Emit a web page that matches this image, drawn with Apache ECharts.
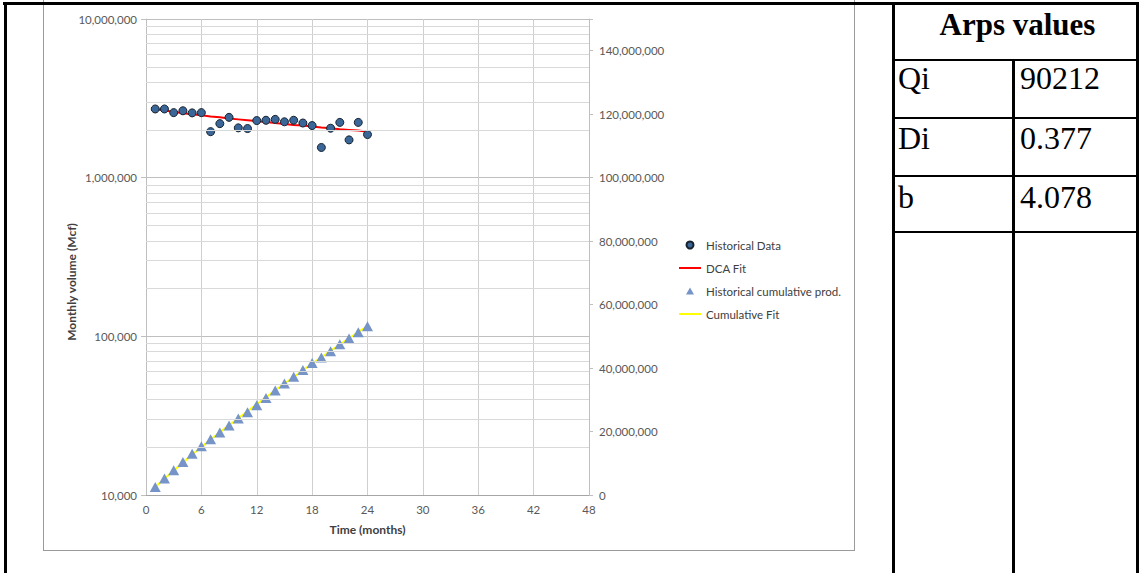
<!DOCTYPE html>
<html>
<head>
<meta charset="utf-8">
<title>Decline curve analysis</title>
<script src="https://cdn.jsdelivr.net/npm/echarts@6/dist/echarts.min.js"></script>
<style>
  html, body { margin: 0; padding: 0; background: #fff; }
  #page { position: relative; width: 1139px; height: 573px; overflow: hidden; background: #fff; }
  #chart { position: absolute; left: 0; top: 0; width: 1139px; height: 573px; }
  .frame { position: absolute; left: 43px; top: -20px; width: 812px; height: 571px;
           border: 1px solid #9a9a9a; box-sizing: border-box; }
  .rule { position: absolute; background: #000; }
  .cell { position: absolute; font-family: "Liberation Serif", "Times New Roman", serif;
          color: #000; font-size: 32px; line-height: 36px; height: 36px; white-space: nowrap; }
  .head { font-weight: bold; font-size: 31px; text-align: center; }
</style>
</head>
<body>
<div id="page">
  <div class="frame"></div>
  <div id="chart"></div>

  <!-- page table rules -->
  <div class="rule" style="left:3px;top:2px;width:1136px;height:3px"></div>
  <div class="rule" style="left:4px;top:2px;width:3px;height:571px"></div>
  <div class="rule" style="left:892px;top:2px;width:3px;height:571px"></div>
  <div class="rule" style="left:1012px;top:59px;width:3px;height:514px"></div>
  <div class="rule" style="left:1136px;top:2px;width:3px;height:571px"></div>
  <div class="rule" style="left:892px;top:59px;width:247px;height:2px"></div>
  <div class="rule" style="left:892px;top:117px;width:247px;height:2px"></div>
  <div class="rule" style="left:892px;top:175px;width:247px;height:2px"></div>
  <div class="rule" style="left:892px;top:231px;width:247px;height:2px"></div>

  <!-- Arps parameters -->
  <div class="cell head" style="left:897px;top:7px;width:241px">Arps values</div>
  <div class="cell" style="left:898px;top:60px">Qi</div>
  <div class="cell" style="left:1020px;top:60px">90212</div>
  <div class="cell" style="left:898px;top:120px">Di</div>
  <div class="cell" style="left:1020px;top:120px">0.377</div>
  <div class="cell" style="left:898px;top:179px">b</div>
  <div class="cell" style="left:1020px;top:179px">4.078</div>
</div>

<script>
// Production months
const months = [1, 2, 3, 4, 5, 6, 7, 8, 9, 10, 11, 12,
                13, 14, 15, 16, 17, 18, 19, 20, 21, 22, 23, 24];

// Historical monthly volume (Mcf)
const historicalMonthly = [
  2710000, 2710000, 2570000, 2640000, 2560000, 2570000,
  1950000, 2190000, 2400000, 2060000, 2040000, 2290000,
  2300000, 2330000, 2250000, 2300000, 2210000, 2130000,
  1550000, 2050000, 2230000, 1730000, 2230000, 1870000
];

// Arps decline fit of the monthly volume (Mcf)
const dcaFit = [
  2710000, 2650000, 2600000, 2550000, 2510000, 2470000,
  2430000, 2400000, 2360000, 2330000, 2300000, 2270000,
  2240000, 2210000, 2180000, 2150000, 2130000, 2100000,
  2070000, 2050000, 2020000, 2000000, 1980000, 1950000
];

// Historical cumulative production (Mcf)
const historicalCumulative = [
  2500000, 5200000, 7800000, 10400000, 13000000, 15400000,
  17600000, 19700000, 21900000, 24100000, 26100000, 28300000,
  30600000, 32900000, 35100000, 37300000, 39400000, 41600000,
  43300000, 45300000, 47500000, 49300000, 51300000, 53200000
];

// Cumulative production from the fit (Mcf)
const cumulativeFit = [
  2500000, 5100000, 7700000, 10200000, 12700000, 15100000,
  17500000, 19800000, 22000000, 24200000, 26400000, 28600000,
  30800000, 33000000, 35100000, 37200000, 39300000, 41400000,
  43400000, 45400000, 47400000, 49400000, 51300000, 53200000
];

// Minor gridlines of the logarithmic volume axis
const minorLogLines = [
  20000, 30000, 40000, 50000, 60000, 70000, 80000, 90000,
  200000, 300000, 400000, 500000, 600000, 700000, 800000, 900000,
  2000000, 3000000, 4000000, 5000000, 6000000, 7000000, 8000000, 9000000
];

function withCommas(v) {
  return String(Math.round(v)).replace(/\B(?=(\d{3})+(?!\d))/g, ',');
}
function pairs(values) {
  return months.map((m, i) => [m, values[i]]);
}

const FONT = 'Lato, "Open Sans", sans-serif';
const labelStyle = { fontFamily: FONT, fontSize: 11.5, color: '#595959' };
const hiddenMarker = { color: 'rgba(0,0,0,0)', borderColor: 'rgba(0,0,0,0)', borderWidth: 0, opacity: 0 };
// Legend marker: a small triangle centred in the 22x7 legend icon box
// (two hair-sized corner squares pin the path's bounding box to that box).
const legendTriangle = 'path://M0,0h0.01v0.01h-0.01Z M22,7h-0.01v-0.01h0.01Z M7,7L11,0L15,7Z';

const chart = echarts.init(document.getElementById('chart'), null, { renderer: 'svg' });

chart.setOption({
  animation: false,
  backgroundColor: 'transparent',
  grid: { left: 146, right: 550, top: 19, bottom: 78, containLabel: false },
  legend: {
    orient: 'vertical',
    left: 678,
    top: 238,
    padding: 0,
    itemWidth: 22,
    itemHeight: 7,
    itemGap: 9,
    selectedMode: false,
    data: [
      { name: 'Historical Data', icon: 'circle' },
      { name: 'DCA Fit', itemStyle: hiddenMarker },
      { name: 'Historical cumulative prod.', icon: legendTriangle },
      { name: 'Cumulative Fit', itemStyle: hiddenMarker }
    ],
    textStyle: { fontFamily: FONT, fontSize: 11.5, color: '#404040', lineHeight: 14 }
  },
  xAxis: {
    type: 'value',
    min: 0,
    max: 48,
    interval: 6,
    name: 'Time (months)',
    nameLocation: 'middle',
    nameGap: 28,
    nameTextStyle: { fontFamily: FONT, fontSize: 12, fontWeight: 'bold', color: '#404040' },
    axisLine: { show: true, lineStyle: { color: '#a6a6a6', width: 1 } },
    axisTick: { show: false },
    axisLabel: Object.assign({ margin: 8 }, labelStyle),
    splitLine: { show: true, lineStyle: { color: '#cfcfcf', width: 1 } }
  },
  yAxis: [
    {
      type: 'log',
      logBase: 10,
      min: 10000,
      max: 10000000,
      position: 'left',
      axisLine: { show: true, lineStyle: { color: '#bfbfbf' } },
      axisTick: { show: true, inside: false, length: 5, lineStyle: { color: '#bfbfbf' } },
      axisLabel: Object.assign({ margin: 9, formatter: withCommas }, labelStyle),
      splitLine: { show: true, lineStyle: { color: '#bfbfbf', width: 1 } }
    },
    {
      type: 'value',
      min: 0,
      max: 150000000,
      interval: 20000000,
      position: 'right',
      axisLine: { show: true, lineStyle: { color: '#bfbfbf' } },
      axisTick: { show: true, inside: false, length: 4, lineStyle: { color: '#bfbfbf' } },
      axisLabel: Object.assign({
        margin: 10,
        formatter: v => (v > 140000000 ? '' : withCommas(v))
      }, labelStyle),
      splitLine: { show: false }
    }
  ],
  graphic: [
    {
      type: 'text',
      x: 71,
      y: 282,
      rotation: Math.PI / 2,
      silent: true,
      style: {
        text: 'Monthly volume (Mcf)',
        fontFamily: FONT,
        fontSize: 12,
        fontWeight: 'bold',
        fill: '#404040',
        align: 'center',
        verticalAlign: 'middle'
      }
    }
  ],
  series: [
    {
      name: 'log-minor-grid',
      type: 'line',
      yAxisIndex: 0,
      data: [],
      z: 0,
      silent: true,
      markLine: {
        silent: true,
        symbol: ['none', 'none'],
        label: { show: false },
        lineStyle: { color: '#d9d9d9', width: 1, type: 'solid' },
        emphasis: { disabled: true },
        data: minorLogLines.map(v => ({ yAxis: v }))
      }
    },
    {
      name: 'DCA Fit',
      type: 'line',
      yAxisIndex: 0,
      data: pairs(dcaFit),
      symbol: 'none',
      z: 3,
      lineStyle: { color: '#ff0000', width: 2 },
      itemStyle: { color: '#ff0000' }
    },
    {
      name: 'Historical Data',
      type: 'scatter',
      yAxisIndex: 0,
      data: pairs(historicalMonthly),
      symbol: 'circle',
      symbolSize: 8,
      z: 4,
      itemStyle: { color: '#3b6698', borderColor: '#17222f', borderWidth: 1, opacity: 1 }
    },
    {
      name: 'Cumulative Fit',
      type: 'line',
      yAxisIndex: 1,
      data: pairs(cumulativeFit),
      symbol: 'none',
      z: 3,
      lineStyle: { color: '#ffff00', width: 2 },
      itemStyle: { color: '#ffff00' }
    },
    {
      name: 'Historical cumulative prod.',
      type: 'scatter',
      yAxisIndex: 1,
      data: pairs(historicalCumulative),
      symbol: 'triangle',
      symbolSize: [11, 10],
      z: 4,
      itemStyle: { color: '#7694c8', opacity: 1 }
    }
  ]
});
</script>
</body>
</html>
